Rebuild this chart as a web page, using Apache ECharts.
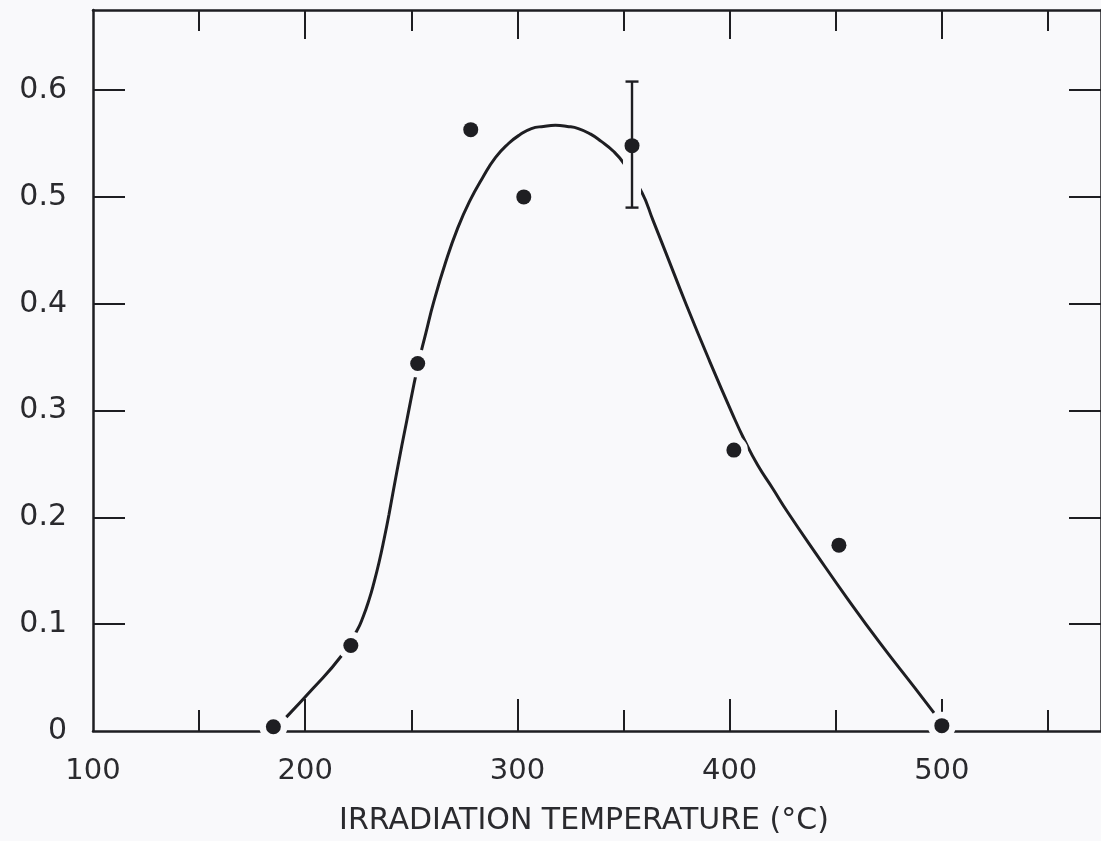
<!DOCTYPE html>
<html>
<head>
<meta charset="utf-8">
<title>Void swelling vs irradiation temperature</title>
<script src="https://cdn.jsdelivr.net/npm/echarts@6/dist/echarts.min.js"></script>
<style>
  html, body { margin: 0; padding: 0; background: #f9f9fb; }
  #chart { width: 1101px; height: 841px; }
</style>
</head>
<body>
<div id="chart"></div>
<script>
// Measured points
const temperatures = [185, 221.5, 253, 278, 303, 354, 402, 451.5, 500];
const values = [0.004, 0.080, 0.344, 0.563, 0.500, 0.548, 0.263, 0.174, 0.005];

// Scatter band on the 350 °C point
const errTemps = [354];
const errLow = [0.490];
const errHigh = [0.608];

// Hand-drawn guide curve through the data
const curveTemps = [191.1, 203.3, 216.9, 224.4, 227.3, 230.1, 232.4, 234.8, 237.1, 239.5, 243.2,
  247.9, 253.1, 256.9, 260.6, 266.2, 271.9, 277.5, 283.6, 289.7, 295.8, 301.0, 306.6,
  312.3, 317.9, 323.5, 328.7, 334.3, 339.5, 345.1, 350.3, 358.7, 363.9, 369.5, 379.4,
  390.2, 401.5, 407.1, 413.2, 420.3, 427.3, 441.4, 455.5, 471.0, 487.0, 496.3];
const curveValues = [0.013, 0.039, 0.070, 0.094, 0.107, 0.123, 0.139, 0.158, 0.179, 0.203, 0.243,
  0.291, 0.342, 0.373, 0.402, 0.439, 0.471, 0.496, 0.518, 0.537, 0.550, 0.558, 0.564,
  0.566, 0.567, 0.566, 0.564, 0.559, 0.552, 0.543, 0.531, 0.504, 0.478, 0.450, 0.400,
  0.348, 0.296, 0.272, 0.249, 0.227, 0.205, 0.164, 0.124, 0.082, 0.041, 0.017];

// Axis ticks and labels
const xLabels = [100, 200, 300, 400, 500];
const xMajorTicks = [200, 300, 400, 500];
const xMinorTicks = [150, 250, 350, 450, 550];
const yLabels = [0, 0.1, 0.2, 0.3, 0.4, 0.5, 0.6];
const yTicks = [0.1, 0.2, 0.3, 0.4, 0.5, 0.6];

const INK = '#1e1e22';
const TEXT = '#2a2a2e';
const PAPER = '#f9f9fb';
const FONT = 'DejaVu Sans';

const chart = echarts.init(document.getElementById('chart'), null, { renderer: 'canvas' });

function xAxisDef(position, ticks, len, opts) {
  return Object.assign({
    type: 'value', position: position, min: 100, max: 575,
    axisLine: { show: false, onZero: false },
    axisTick: { show: true, inside: true, length: len, customValues: ticks,
      lineStyle: { color: INK, width: 2 } },
    axisLabel: { show: false },
    splitLine: { show: false }
  }, opts || {});
}

chart.setOption({
  animation: false,
  backgroundColor: PAPER,
  grid: { left: 93, top: 10, width: 1011.5, height: 721.5, containLabel: false },
  xAxis: [
    xAxisDef('bottom', xMajorTicks, 32, {
      axisLine: { show: true, onZero: false, lineStyle: { color: INK, width: 2.5 } },
      axisLabel: { show: true, customValues: xLabels, margin: 26,
        color: TEXT, fontFamily: FONT, fontSize: 29 },
      name: 'IRRADIATION TEMPERATURE (°C)',
      nameLocation: 'middle',
      nameGap: 75,
      nameTextStyle: { color: TEXT, fontFamily: FONT, fontSize: 30, padding: [0, 26, 0, 0] }
    }),
    xAxisDef('bottom', xMinorTicks, 21),
    xAxisDef('top', xMajorTicks, 29, {
      axisLine: { show: true, onZero: false, lineStyle: { color: INK, width: 2.5 } }
    }),
    xAxisDef('top', xMinorTicks, 21)
  ],
  yAxis: [
    {
      type: 'value', position: 'left', min: 0, max: 0.675,
      axisLine: { show: true, onZero: false, lineStyle: { color: INK, width: 2.5 } },
      axisTick: { show: true, inside: true, length: 32, customValues: yTicks,
        lineStyle: { color: INK, width: 2 } },
      axisLabel: { show: true, customValues: yLabels, margin: 26,
        color: TEXT, fontFamily: FONT, fontSize: 30 },
      splitLine: { show: false }
    },
    {
      type: 'value', position: 'right', min: 0, max: 0.675,
      axisLine: { show: true, onZero: false, lineStyle: { color: INK, width: 2.5 } },
      axisTick: { show: true, inside: true, length: 32, customValues: yTicks,
        lineStyle: { color: INK, width: 2 } },
      axisLabel: { show: false },
      splitLine: { show: false }
    }
  ],
  series: [
    {
      // guide curve
      type: 'line',
      xAxisIndex: 0, yAxisIndex: 0,
      data: curveTemps.map((t, i) => [t, curveValues[i]]),
      smooth: 0.5,
      showSymbol: false,
      lineStyle: { color: INK, width: 3 },
      z: 2
    },
    {
      // paper-coloured clearance round every marker
      type: 'scatter',
      xAxisIndex: 0, yAxisIndex: 0,
      data: temperatures.map((t, i) => [t, values[i]]),
      symbol: 'circle',
      symbolSize: 28,
      itemStyle: { color: PAPER, opacity: 1 },
      silent: true,
      z: 3
    },
    {
      // error bar with its own clearance
      type: 'custom',
      xAxisIndex: 0, yAxisIndex: 0,
      data: errTemps.map((t, i) => [t, errLow[i], errHigh[i]]),
      renderItem: function (params, api) {
        const lo = api.coord([api.value(0), api.value(1)]);
        const hi = api.coord([api.value(0), api.value(2)]);
        const cap = 6.5;
        const ink = { stroke: INK, lineWidth: 2.4 };
        return {
          type: 'group',
          children: [
            { type: 'line', shape: { x1: lo[0], y1: lo[1], x2: hi[0], y2: hi[1] },
              style: { stroke: PAPER, lineWidth: 18 } },
            { type: 'line', shape: { x1: lo[0], y1: lo[1], x2: hi[0], y2: hi[1] }, style: ink },
            { type: 'line', shape: { x1: hi[0] - cap, y1: hi[1], x2: hi[0] + cap, y2: hi[1] }, style: ink },
            { type: 'line', shape: { x1: lo[0] - cap, y1: lo[1], x2: lo[0] + cap, y2: lo[1] }, style: ink }
          ]
        };
      },
      z: 4
    },
    {
      // data points
      type: 'scatter',
      xAxisIndex: 0, yAxisIndex: 0,
      data: temperatures.map((t, i) => [t, values[i]]),
      symbol: 'circle',
      symbolSize: 15,
      itemStyle: { color: INK, opacity: 1 },
      z: 5
    }
  ]
});
</script>
</body>
</html>
